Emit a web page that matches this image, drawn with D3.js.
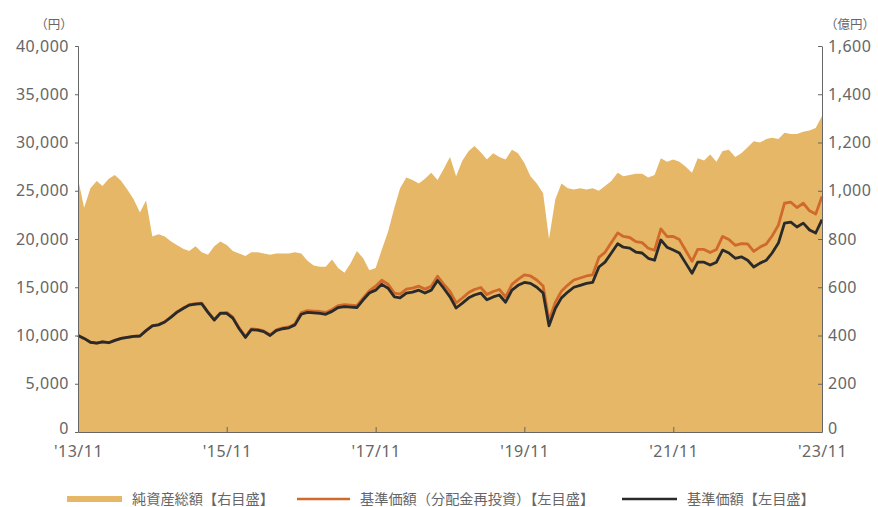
<!DOCTYPE html>
<html>
<head>
<meta charset="utf-8">
<script src="https://cdn.jsdelivr.net/npm/d3@7"></script>
<style>
  body { margin: 0; background: #fff; }
  text { font-family: "Noto Sans CJK JP", "Noto Sans", sans-serif; fill: #555; }
  .axis path, .axis line { stroke: #666; }
</style>
</head>
<body>
<div id="chart"></div>
<script>
// monthly points from '13/11 to '23/11
var months = d3.timeMonth.range(new Date(2013, 10, 1), new Date(2023, 11, 1));

// net assets (oku yen), right axis
var netAssets = [
  1050, 930, 1010, 1040, 1020, 1050, 1065, 1040, 1005, 965,
  910, 960, 810, 820, 810, 790, 775, 760, 750, 770,
  745, 735, 770, 790, 775, 750, 740, 730, 745, 745,
  740, 735, 740, 740, 740, 745, 740, 710, 690, 685,
  685, 715, 680, 660, 700, 750, 720, 670, 680, 755,
  830, 930, 1010, 1055, 1045, 1030, 1050, 1075, 1045, 1090,
  1140, 1060, 1125, 1165, 1185, 1160, 1130, 1155, 1140, 1130,
  1170, 1155, 1115, 1060, 1030, 990, 800, 965, 1030, 1010,
  1005, 1010, 1005, 1010, 1000, 1020, 1040, 1075, 1060, 1065,
  1070, 1070, 1055, 1065, 1135, 1120, 1130, 1120, 1100, 1075,
  1135, 1125, 1150, 1120, 1165, 1170, 1140, 1155, 1180, 1205,
  1200, 1215, 1220, 1215, 1240, 1235, 1235, 1245, 1250, 1260,
  1310
];

// NAV (yen), left axis
var nav = [
  10000, 9700, 9300, 9200, 9350, 9250, 9500, 9700, 9800, 9900,
  9950, 10500, 11000, 11100, 11400, 11900, 12400, 12800, 13150, 13250,
  13300, 12400, 11600, 12300, 12300, 11800, 10700, 9800, 10600, 10550,
  10400, 10000, 10500, 10700, 10800, 11100, 12200, 12400, 12350, 12300,
  12200, 12500, 12900, 13000, 12950, 12900, 13700, 14400, 14700, 15300,
  14900, 14000, 13900, 14400, 14500, 14700, 14400, 14700, 15700, 14900,
  14000, 12850, 13350, 13900, 14200, 14400, 13700, 14000, 14200, 13450,
  14700, 15200, 15500, 15400, 15000, 14400, 11000, 12800, 13900, 14500,
  15000, 15200, 15400, 15500, 17100, 17600, 18550, 19500, 19150, 19050,
  18650, 18550, 18000, 17800, 19900, 19150, 18850, 18550, 17500, 16450,
  17600, 17600, 17300, 17600, 18850, 18550, 18000, 18150, 17800, 17100,
  17500, 17800, 18550, 19580, 21650, 21750, 21240, 21650, 20930, 20620,
  22000
];

// NAV with distributions reinvested (yen), left axis
var navReinvested = [
  10000, 9700, 9300, 9200, 9350, 9250, 9500, 9700, 9800, 9900, 9950, 10500,
  11030, 11130, 11430, 11935, 12440, 12840, 13190, 13290, 13340, 12440, 11635, 12340,
  12400, 11895, 10785, 9880, 10685, 10635, 10485, 10080, 10585, 10785, 10885, 11190,
  12385, 12585, 12535, 12485, 12385, 12690, 13095, 13195, 13145, 13095, 13905, 14615,
  15110, 15730, 15315, 14390, 14290, 14805, 14905, 15110, 14805, 15110, 16140, 15315,
  14560, 13365, 13885, 14455, 14770, 14975, 14250, 14560, 14770, 13990, 15290, 15810,
  16275, 16170, 15750, 15120, 11550, 13440, 14595, 15225, 15750, 15960, 16170, 16275,
  18090, 18620, 19625, 20630, 20260, 20155, 19730, 19625, 19045, 18830, 21055, 20260,
  20265, 19940, 18810, 17685, 18920, 18920, 18600, 18920, 20265, 19940, 19350, 19510,
  19490, 18725, 19160, 19490, 20310, 21440, 23705, 23815, 23260, 23705, 22920, 22580,
  24400
];

var xTickDates = [new Date(2013, 10, 1), new Date(2015, 10, 1), new Date(2017, 10, 1),
  new Date(2019, 10, 1), new Date(2021, 10, 1), new Date(2023, 10, 1)];
var xTickLabels = ["'13/11", "'15/11", "'17/11", "'19/11", "'21/11", "'23/11"];
var leftTicks = [0, 5000, 10000, 15000, 20000, 25000, 30000, 35000, 40000];
var rightTicks = [0, 200, 400, 600, 800, 1000, 1200, 1400, 1600];

var legendLabels = ["純資産総額【右目盛】", "基準価額（分配金再投資）【左目盛】", "基準価額【左目盛】"];

var width = 878;
var height = 507;
var plotLeft = 78, plotRight = 822, plotTop = 46, plotBottom = 432;

var areaColor = "#e5b766";
var orangeColor = "#d0692a";
var blackColor = "#2a2a2a";

var svg = d3.select("#chart")
  .append("svg")
  .attr("width", width)
  .attr("height", height);

var x = d3.scaleTime()
  .domain([months[0], months[months.length - 1]])
  .range([plotLeft, plotRight]);

var yLeft = d3.scaleLinear().domain([0, 40000]).range([plotBottom, plotTop]);
var yRight = d3.scaleLinear().domain([0, 1600]).range([plotBottom, plotTop]);

var rows = months.map(function(d, i) {
  return { date: d, assets: netAssets[i], nav: nav[i], re: navReinvested[i] };
});

// net assets area
var area = d3.area()
  .x(function(d) { return x(d.date); })
  .y0(yRight(0))
  .y1(function(d) { return yRight(d.assets); });

svg.append("path")
  .datum(rows)
  .attr("d", area)
  .attr("fill", areaColor);

// nav lines
var reLine = d3.line()
  .x(function(d) { return x(d.date); })
  .y(function(d) { return yLeft(d.re); });

var navLine = d3.line()
  .x(function(d) { return x(d.date); })
  .y(function(d) { return yLeft(d.nav); });

svg.append("path")
  .datum(rows)
  .attr("d", reLine)
  .attr("fill", "none")
  .attr("stroke", orangeColor)
  .attr("stroke-width", 2.8)
  .attr("stroke-linejoin", "round");

svg.append("path")
  .datum(rows)
  .attr("d", navLine)
  .attr("fill", "none")
  .attr("stroke", blackColor)
  .attr("stroke-width", 2.8)
  .attr("stroke-linejoin", "round");

// axes
var leftAxis = d3.axisLeft(yLeft)
  .tickValues(leftTicks)
  .tickFormat(d3.format(","))
  .tickSize(3)
  .tickPadding(6);

var gl = svg.append("g")
  .attr("class", "axis")
  .attr("transform", "translate(" + plotLeft + ",0)")
  .call(leftAxis);

var rightAxis = d3.axisRight(yRight)
  .tickValues(rightTicks)
  .tickFormat(d3.format(","))
  .tickSizeInner(-4)
  .tickSizeOuter(0)
  .tickPadding(6);

var gr = svg.append("g")
  .attr("class", "axis")
  .attr("transform", "translate(" + plotRight + ",0)")
  .call(rightAxis);

var bottomAxis = d3.axisBottom(x)
  .tickValues(xTickDates)
  .tickFormat(function(d, i) { return xTickLabels[i]; })
  .tickSizeInner(-5)
  .tickSizeOuter(0)
  .tickPadding(14);

var gb = svg.append("g")
  .attr("class", "axis")
  .attr("transform", "translate(0," + plotBottom + ")")
  .call(bottomAxis);

svg.selectAll(".axis .domain").attr("stroke", "#777");
svg.selectAll(".axis text")
  .attr("font-size", 16)
  .attr("letter-spacing", 0.5)
  .style("font-family", "'Noto Sans', sans-serif")
  .style("fill", "#666");
gb.selectAll(".tick line").attr("stroke", "#8a6d3e");

// lift the zero labels a little so they clear the date labels
gl.selectAll(".tick text").filter(function(d) { return d === 0; }).attr("dy", "0.1em");
gr.selectAll(".tick text").filter(function(d) { return d === 0; }).attr("dy", "0.1em");

// units
svg.append("text")
  .attr("x", 54)
  .attr("y", 29)
  .attr("text-anchor", "middle")
  .attr("font-size", 12.5)
  .style("fill", "#666")
  .text("（円）");

svg.append("text")
  .attr("x", 850)
  .attr("y", 29)
  .attr("text-anchor", "middle")
  .attr("font-size", 12.5)
  .style("fill", "#666")
  .text("（億円）");

// legend
var legend = svg.append("g").attr("class", "legend");

legend.append("rect")
  .attr("x", 67)
  .attr("y", 496)
  .attr("width", 55)
  .attr("height", 6)
  .attr("fill", areaColor);

legend.append("line")
  .attr("x1", 297).attr("x2", 350)
  .attr("y1", 499).attr("y2", 499)
  .attr("stroke", orangeColor)
  .attr("stroke-width", 2.5);

legend.append("line")
  .attr("x1", 622).attr("x2", 677)
  .attr("y1", 499).attr("y2", 499)
  .attr("stroke", blackColor)
  .attr("stroke-width", 2.5);

var legendX = [132, 360, 687];
legendLabels.forEach(function(t, i) {
  legend.append("text")
    .attr("x", legendX[i])
    .attr("y", 504)
    .attr("font-size", 14.2)
    .style("fill", "#666")
    .text(t);
});
</script>
</body>
</html>
